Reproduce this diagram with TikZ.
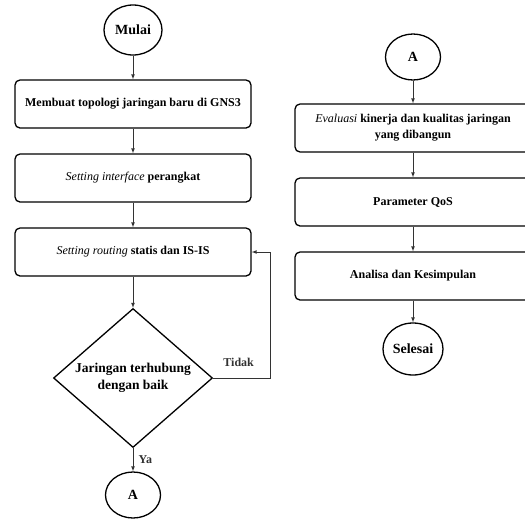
\documentclass[tikz,border=0pt]{standalone}
\usepackage{fontspec}
\setmainfont{Liberation Serif}
\usetikzlibrary{shapes.geometric, positioning, arrows}

\begin{document}
\begin{tikzpicture}[x=1pt, y=-1pt, node distance=74pt, on grid, >=latex,
    font=\bfseries\fontsize{12}{16}\selectfont,
    proses/.style={draw, line width=1.3pt, rounded corners=5pt, minimum width=236pt, minimum height=48pt, align=center},
    terminal/.style={draw, line width=1.3pt, ellipse, minimum width=58pt, minimum height=50pt, inner sep=1pt, font=\bfseries\fontsize{14}{16}\selectfont},
    konektor/.style={terminal, minimum width=55pt, minimum height=46pt},
    keputusan/.style={draw, line width=1.3pt, diamond, aspect=1.14, inner sep=0pt, minimum width=159pt, minimum height=139pt, align=center, font=\bfseries\fontsize{13.5}{16.5}\selectfont},
    alur/.style={draw, ->, line width=0.7pt, black!80}]
    \useasboundingbox (0,0) rectangle (525,520);

    % kolom kiri
    \node[terminal] (mulai) at (133,30) {Mulai};
    \node[proses, below=of mulai] (topologi) {Membuat topologi jaringan baru di GNS3};
    \node[proses, below=of topologi] (interface) {\textmd{\textit{Setting interface}} perangkat};
    \node[proses, below=of interface] (routing) {\textmd{\textit{Setting routing}} statis dan IS-IS};
    \node[keputusan, below=126pt of routing] (cek) {Jaringan terhubung\\dengan baik};
    \node[konektor, below=117pt of cek] (akiri) {A};

    % kolom kanan
    \node[konektor] (akanan) at (413,57) {A};
    \node[proses, below=71pt of akanan] (evaluasi) {\textmd{\textit{Evaluasi}} kinerja dan kualitas jaringan\\yang dibangun};
    \node[proses, below=of evaluasi] (qos) {Parameter QoS};
    \node[proses, below=of qos] (analisa) {Analisa dan Kesimpulan};
    \node[terminal, minimum width=60pt, minimum height=52pt, below=73pt of analisa] (selesai) {Selesai};

    \path[alur]
        (mulai) edge (topologi)
        (topologi) edge (interface)
        (interface) edge (routing)
        (routing) edge (cek)
        (cek) edge node[right=2pt] {Ya} (akiri)
        (akanan) edge (evaluasi)
        (evaluasi) edge (qos)
        (qos) edge (analisa)
        (analisa) edge (selesai);
    \draw[alur] (cek.east) -- node[above=8pt, xshift=-3pt] {Tidak} ++(57,0) |- (routing.east);
\end{tikzpicture}
\end{document}
